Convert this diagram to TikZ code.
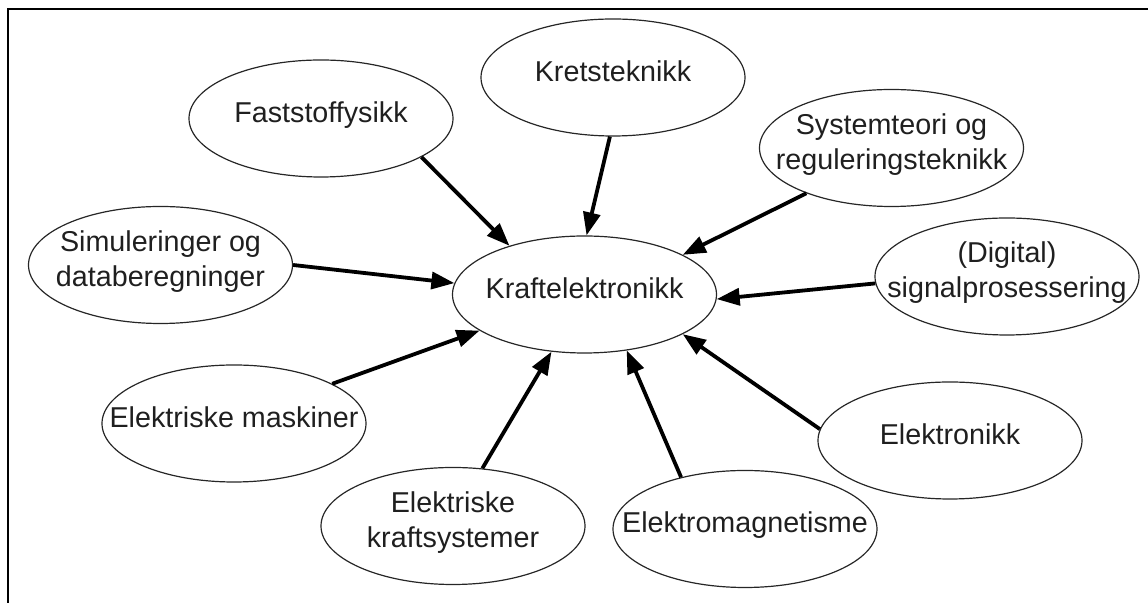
\documentclass[tikz,border=0pt]{standalone}
\usepackage{fontspec}
\setmainfont{Liberation Sans}
\usetikzlibrary{shapes.geometric,arrows.meta}
% centred label of fixed size, so the ellipse keeps its own dimensions
\newcommand\topictext[1]{\raisebox{-2pt}[0pt][0pt]{\makebox[0pt][c]{\begin{tabular}{@{}c@{}}#1\end{tabular}}}}
\begin{document}
\begin{tikzpicture}[x=0.5pt,y=-0.5pt,
  topic/.style={ellipse,draw=black!85,line width=0.6pt,minimum width=132pt,
    minimum height=58.5pt,inner sep=0pt,font=\fontsize{14.35}{17.5}\selectfont,text=black!88},
  link/.style={line width=1.9pt,-{Triangle[length=11.5pt,width=8.5pt]}},
  frameline/.style={line width=1.3pt}]
\useasboundingbox (0,0) rectangle (1148,603);

% open frame: left and top edges
\draw[frameline] (8,603) -- (8,9) -- (1148,9);

% centre topic
\node[topic] (kraft) at (584.5,294.5) {\topictext{Kraftelektronikk}};

% surrounding topics
\node[topic] (krets)    at (613,77.5)    {\topictext{Kretsteknikk}};
\node[topic] (fast)     at (321,118.5)   {\topictext{Faststoffysikk}};
\node[topic] (sys)      at (891.5,148)   {\topictext{Systemteori og\\reguleringsteknikk}};
\node[topic] (dsp)      at (1007,276.5)  {\topictext{(Digital)\\signalprosessering}};
\node[topic] (sim)      at (160.5,265)   {\topictext{Simuleringer og\\databeregninger}};
\node[topic] (mask)     at (234,423.5)   {\topictext{Elektriske maskiner}};
\node[topic] (kraftsys) at (453,526)     {\topictext{Elektriske\\kraftsystemer}};
\node[topic] (em)       at (745,529)     {\topictext{Elektromagnetisme}};
\node[topic] (elek)     at (950,440.5)   {\topictext{Elektronikk}};

% contributions to power electronics
\draw[link] (fast.-21)      -- (kraft.147);
\draw[link] (krets.-93)     -- (kraft.88);
\draw[link] (sys.-152)      -- (kraft.22);
\draw[link] (dsp.-177)      -- (kraft.-2);
\draw[link] (elek.175)      -- (kraft.-22);
\draw[link] (em.141)        -- (kraft.-53);
\draw[link] (kraftsys.63)   -- (kraft.-120);
\draw[link] (mask.22)       -- (kraft.-161);
\draw[link] (sim.0)         -- (kraft.175);
\end{tikzpicture}
\end{document}
